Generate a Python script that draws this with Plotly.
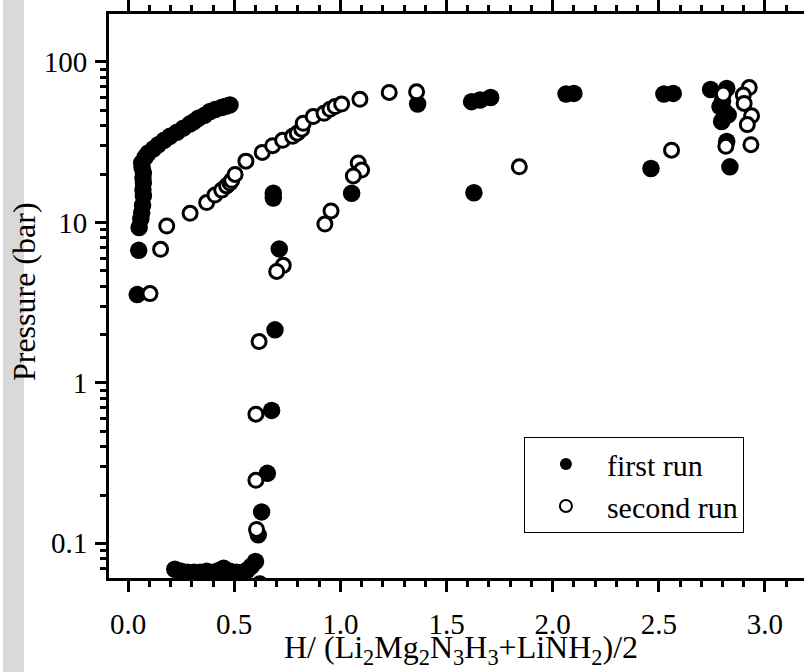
import plotly.graph_objects as go

# ---- data ----
first_x = [0.043, 0.050, 0.052, 0.060, 0.064, 0.068, 0.072, 0.070, 0.072, 0.070, 0.072, 0.066, 0.064,
           0.080, 0.095, 0.120, 0.142, 0.170, 0.197, 0.230, 0.260, 0.290, 0.310, 0.331, 0.360, 0.386,
           0.410, 0.440, 0.460, 0.480,
           0.22, 0.25, 0.28, 0.31, 0.34, 0.37, 0.40, 0.43, 0.45, 0.48, 0.51, 0.54, 0.56, 0.58, 0.60,
           0.613, 0.629, 0.656, 0.676, 0.692, 0.712, 0.684, 0.684,
           1.053, 1.364, 1.618, 1.629, 1.658, 1.708, 2.063, 2.100, 2.463, 2.524, 2.568,
           2.744, 2.820, 2.788, 2.800, 2.810, 2.827, 2.796, 2.820, 2.835]
first_y = [3.55, 6.7, 9.3, 10.5, 11.5, 12.8, 14.6, 16.0, 17.7, 19.0, 20.4, 22.0, 23.5,
           25.5, 27.1, 28.8, 30.5, 32.5, 34.4, 36.5, 38.7, 41.0, 42.5, 44.6, 46.5, 49.1,
           50.5, 52.0, 53.0, 54.0,
           0.069, 0.067, 0.066, 0.066, 0.066, 0.067, 0.066, 0.068, 0.070, 0.067, 0.066, 0.066, 0.068, 0.072, 0.077,
           0.113, 0.157, 0.273, 0.674, 2.14, 6.84, 14.2, 15.2,
           15.2, 54.7, 56.6, 15.3, 58.0, 60.1, 63.1, 63.7, 21.7, 63.1, 63.7,
           67.4, 68.4, 52.7, 57.0, 49.0, 46.8, 42.6, 32.0, 22.2]

second_x = [0.103, 0.153, 0.182, 0.292, 0.370, 0.409, 0.441, 0.464, 0.480, 0.488, 0.504, 0.555,
            0.632, 0.681, 0.728, 0.775, 0.797, 0.818, 0.825, 0.872, 0.923, 0.951, 0.975, 1.006,
            1.092, 1.230, 1.359,
            1.084, 1.100, 1.061, 0.956, 0.927, 0.731, 0.700, 0.617, 0.602, 0.602, 0.605, 0.620,
            1.843, 2.560, 2.804, 2.816, 2.926, 2.898, 2.902, 2.937, 2.917, 2.934]
second_y = [3.6, 6.8, 9.5, 11.4, 13.3, 14.8, 15.9, 16.9, 17.6, 18.3, 19.9, 24.1,
            27.3, 30.1, 32.5, 34.4, 36.0, 38.1, 41.5, 45.7, 47.9, 50.7, 52.7, 54.7,
            58.5, 64.6, 65.2,
            23.5, 21.2, 19.5, 11.8, 9.77, 5.4, 4.95, 1.81, 0.638, 0.247, 0.122, 0.056,
            22.2, 28.2, 63.1, 29.8, 69.3, 62.2, 55.2, 46.2, 40.7, 30.5]

y_tick_vals = [0.1, 1, 10, 100]
y_tick_text = ["0.1", "1", "10", "100"]
y_minor_vals = [m * 10 ** e for e in range(-2, 3) for m in range(2, 10)]

FONT = "Times New Roman, Liberation Serif, Times, serif"

fig = go.Figure()
fig.add_trace(go.Scatter(
    x=first_x, y=first_y, mode="markers", name="first run",
    marker=dict(symbol="circle", size=17.5, color="black", line=dict(width=0)),
))
fig.add_trace(go.Scatter(
    x=second_x, y=second_y, mode="markers", name="second run",
    marker=dict(symbol="circle", size=14, color="white", line=dict(width=3, color="black")),
))

fig.update_layout(
    width=804, height=672,
    margin=dict(l=109, r=0, t=10, b=94),
    paper_bgcolor="white", plot_bgcolor="white",
    font=dict(family=FONT, color="black", size=29),
    showlegend=True,
    legend=dict(
        x=0.597, y=0.250, xanchor="left", yanchor="top",
        bordercolor="black", borderwidth=1, bgcolor="white",
        font=dict(family=FONT, size=30, color="black"),
        itemsizing="constant", itemwidth=72,
        tracegroupgap=0,
    ),
    shapes=[dict(type="rect", xref="paper", yref="paper",
                 x0=-0.1525, x1=-0.1223, y0=-0.2, y1=1.05,
                 fillcolor="#d9d9d9", line=dict(width=0), layer="below")],
    annotations=[
        dict(text="Pressure (bar)", xref="paper", yref="paper", x=-0.1223, y=0.507,
             textangle=-90, showarrow=False, xanchor="center", yanchor="middle",
             font=dict(family=FONT, size=32, color="black")),
        dict(text="H/ (Li<sub>2</sub>Mg<sub>2</sub>N<sub>3</sub>H<sub>3</sub>+LiNH<sub>2</sub>)/2",
             xref="paper", yref="paper", x=0.5065, y=-0.1268, showarrow=False,
             xanchor="center", yanchor="middle",
             font=dict(family=FONT, size=32, color="black")),
    ],
)

fig.update_xaxes(
    range=[-0.09, 3.184], tickmode="linear", tick0=0, dtick=0.5, tickformat=".1f",
    ticks="outside", ticklen=11, tickwidth=3, tickcolor="black",
    showline=True, linewidth=3, linecolor="black", mirror="allticks",
    showgrid=False, zeroline=False,
    tickfont=dict(family=FONT, size=29, color="black"),
    ticklabelstandoff=7,
    minor=dict(dtick=0.1, tick0=0, ticks="outside", ticklen=6, tickwidth=2.5, tickcolor="black", showgrid=False),
)
fig.update_yaxes(
    type="log", range=[-1.216, 2.299],
    tickmode="array", tickvals=y_tick_vals, ticktext=y_tick_text,
    ticks="outside", ticklen=11, tickwidth=3, tickcolor="black",
    showline=True, linewidth=3, linecolor="black", mirror=False,
    showgrid=False, zeroline=False,
    tickfont=dict(family=FONT, size=29, color="black"),
    ticklabelstandoff=2,
    minor=dict(tickmode="array", tickvals=y_minor_vals, ticks="outside", ticklen=6, tickwidth=2.5,
               tickcolor="black", showgrid=False),
)

fig.write_html("out.html")
